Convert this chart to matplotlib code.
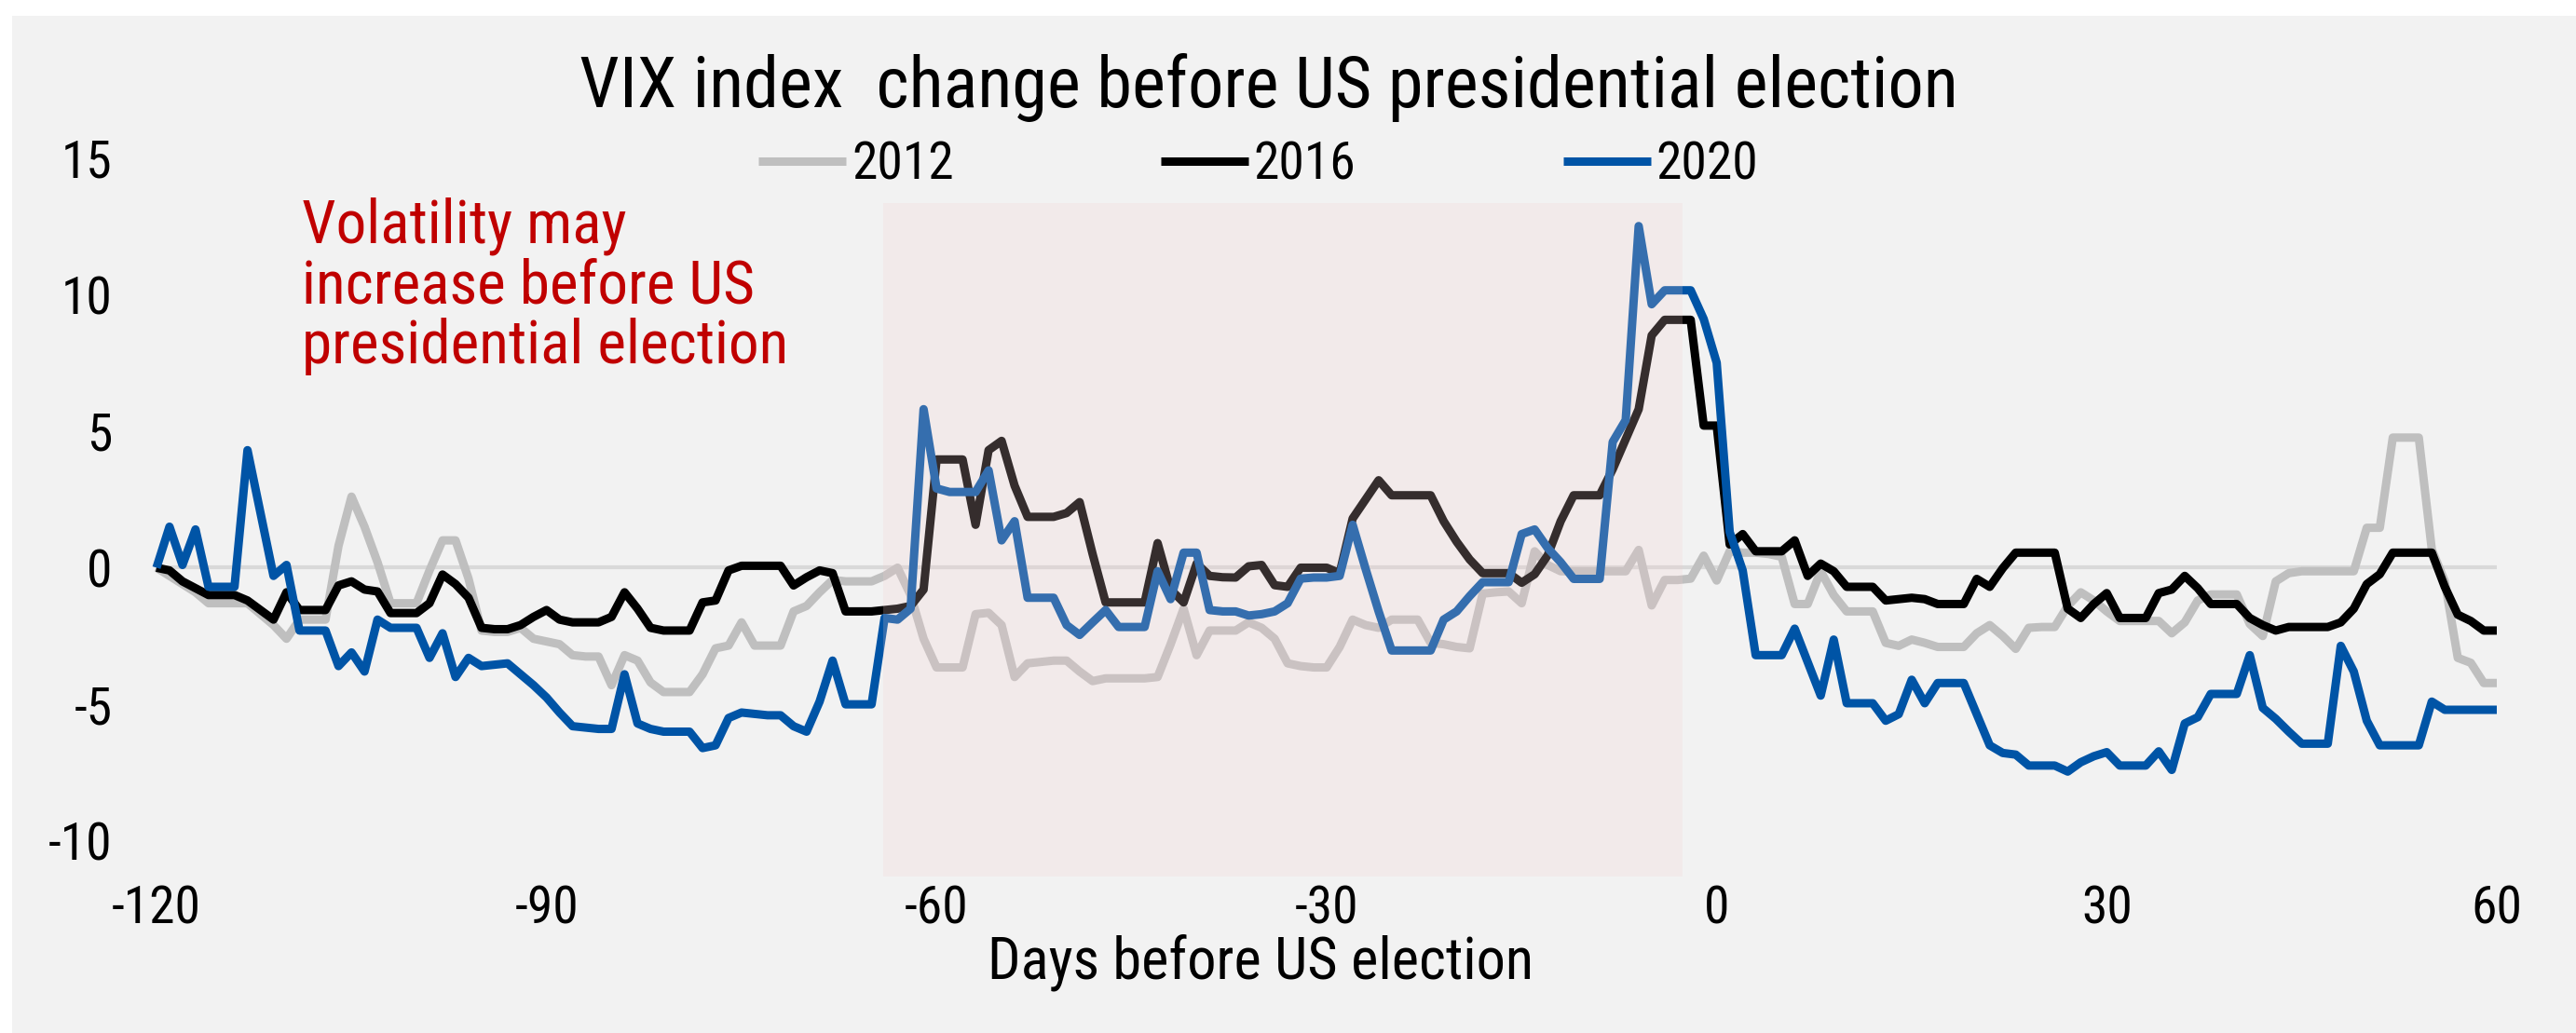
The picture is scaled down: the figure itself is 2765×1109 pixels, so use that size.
import numpy as np
import matplotlib
matplotlib.use("Agg")
from matplotlib import pyplot as plt
from matplotlib import font_manager
from matplotlib.patches import Rectangle

# days relative to election day
days = list(range(-120, 61))

vix_2012 = [
    0, -0.3, -0.6, -0.9, -1.3, -1.3, -1.3, -1.3, -1.7, -2.1,
    -2.6, -1.9, -1.9, -1.9, 0.8, 2.6, 1.5, 0.2, -1.3, -1.3,
    -1.3, -0.1, 1.0, 1.0, -0.4, -2.3, -2.35, -2.35, -2.2, -2.6,
    -2.7, -2.8, -3.2, -3.25, -3.25, -4.3, -3.2, -3.4, -4.2, -4.55,
    -4.55, -4.55, -3.9, -2.95, -2.85, -2.0, -2.85, -2.85, -2.85, -1.6,
    -1.4, -0.9, -0.45, -0.5, -0.5, -0.5, -0.3, 0.0, -1.0, -2.6,
    -3.65, -3.65, -3.65, -1.7, -1.65, -2.1, -4.0, -3.5, -3.45, -3.4,
    -3.4, -3.8, -4.15, -4.05, -4.05, -4.05, -4.05, -4.0, -2.8, -1.5,
    -3.2, -2.3, -2.3, -2.3, -2.0, -2.2, -2.6, -3.5, -3.6, -3.65,
    -3.65, -2.9, -1.9, -2.1, -2.2, -1.9, -1.9, -1.9, -2.75, -2.8,
    -2.9, -2.95, -0.95, -0.9, -0.87, -1.3, 0.6, 0.1, -0.13, -0.13,
    -0.13, -0.13, -0.13, -0.13, 0.65, -1.38, -0.45, -0.45, -0.4, 0.44,
    -0.47, 0.6, 0.55, 0.55, 0.5, 0.4, -1.33, -1.33, -0.13, -1.0,
    -1.6, -1.6, -1.6, -2.75, -2.86, -2.63, -2.75, -2.9, -2.9, -2.9,
    -2.4, -2.1, -2.5, -2.97, -2.2, -2.17, -2.17, -1.4, -0.9, -1.2,
    -1.6, -1.95, -1.95, -1.95, -1.95, -2.4, -2.0, -1.2, -0.98, -0.98,
    -0.98, -2.06, -2.5, -0.5, -0.2, -0.13, -0.13, -0.13, -0.13, -0.13,
    1.46, 1.46, 4.76, 4.76, 4.76, 0.67, -0.5, -3.3, -3.48, -4.22,
    -4.22,
]

vix_2016 = [
    0, -0.1, -0.5, -0.75, -1.0, -1.0, -1.0, -1.2, -1.55, -1.9,
    -0.9, -1.55, -1.55, -1.55, -0.65, -0.5, -0.8, -0.87, -1.66, -1.66,
    -1.66, -1.3, -0.25, -0.6, -1.1, -2.2, -2.25, -2.25, -2.1, -1.8,
    -1.55, -1.9, -2.0, -2.0, -2.0, -1.8, -0.9, -1.5, -2.2, -2.3,
    -2.3, -2.3, -1.27, -1.2, -0.1, 0.07, 0.07, 0.07, 0.07, -0.65,
    -0.35, -0.1, -0.2, -1.6, -1.6, -1.6, -1.55, -1.5, -1.4, -0.8,
    3.96, 3.96, 3.96, 1.57, 4.3, 4.64, 3.0, 1.86, 1.86, 1.86,
    2.0, 2.4, 0.5, -1.27, -1.27, -1.27, -1.27, 0.9, -0.8, -1.27,
    0.15, -0.3, -0.35, -0.36, 0.05, 0.1, -0.64, -0.7, 0.0, 0.0,
    0.0, -0.2, 1.8, 2.5, 3.2, 2.65, 2.65, 2.65, 2.65, 1.7,
    0.95, 0.3, -0.2, -0.2, -0.2, -0.55, -0.24, 0.45, 1.7, 2.65,
    2.65, 2.65, 3.6, 4.7, 5.8, 8.5, 9.07, 9.07, 9.07, 5.2,
    5.2, 0.85, 1.23, 0.6, 0.6, 0.6, 1.0, -0.3, 0.15, -0.13,
    -0.7, -0.7, -0.7, -1.2, -1.15, -1.1, -1.15, -1.33, -1.33, -1.33,
    -0.41, -0.7, -0.02, 0.55, 0.55, 0.55, 0.55, -1.5, -1.84, -1.33,
    -0.93, -1.84, -1.84, -1.84, -0.93, -0.8, -0.3, -0.75, -1.33, -1.33,
    -1.33, -1.84, -2.1, -2.3, -2.17, -2.17, -2.17, -2.17, -2.0, -1.5,
    -0.6, -0.24, 0.55, 0.55, 0.55, 0.55, -0.7, -1.72, -1.95, -2.3,
    -2.3,
]

vix_2020 = [
    0, 1.5, 0.1, 1.4, -0.7, -0.7, -0.7, 4.3, 2.0, -0.3,
    0.1, -2.3, -2.3, -2.3, -3.6, -3.1, -3.8, -1.9, -2.2, -2.2,
    -2.2, -3.3, -2.4, -4.0, -3.3, -3.6, -3.55, -3.5, -3.9, -4.3,
    -4.75, -5.3, -5.8, -5.85, -5.9, -5.9, -3.9, -5.7, -5.9, -6.0,
    -6.0, -6.0, -6.6, -6.5, -5.5, -5.3, -5.35, -5.4, -5.4, -5.8,
    -6.0, -4.9, -3.4, -5.0, -5.0, -5.0, -1.84, -1.9, -1.5, 5.8,
    2.9, 2.77, 2.77, 2.77, 3.56, 1.0, 1.7, -1.1, -1.1, -1.1,
    -2.1, -2.46, -2.0, -1.55, -2.17, -2.17, -2.17, -0.13, -1.15, 0.55,
    0.55, -1.55, -1.6, -1.6, -1.75, -1.7, -1.6, -1.3, -0.4, -0.36,
    -0.36, -0.3, 1.57, -0.05, -1.6, -3.03, -3.03, -3.03, -3.03, -1.9,
    -1.6, -1.04, -0.53, -0.53, -0.53, 1.23, 1.4, 0.72, 0.2, -0.41,
    -0.41, -0.41, 4.6, 5.4, 12.5, 9.64, 10.15, 10.15, 10.15, 9.1,
    7.5, 1.3, -0.1, -3.2, -3.2, -3.2, -2.23, -3.45, -4.68, -2.63,
    -4.96, -4.96, -4.96, -5.6, -5.36, -4.1, -4.96, -4.22, -4.22, -4.22,
    -5.36, -6.5, -6.78, -6.84, -7.24, -7.24, -7.24, -7.46, -7.12, -6.9,
    -6.75, -7.24, -7.24, -7.24, -6.72, -7.4, -5.7, -5.47, -4.62, -4.62,
    -4.62, -3.2, -5.13, -5.53, -6.0, -6.44, -6.44, -6.44, -2.86, -3.8,
    -5.6, -6.5, -6.5, -6.5, -6.5, -4.9, -5.2, -5.2, -5.2, -5.2,
    -5.2,
]

series = [("2012", vix_2012, "#bfbfbf"),
          ("2016", vix_2016, "#000000"),
          ("2020", vix_2020, "#0054a6")]

x_ticks = [-120, -90, -60, -30, 0, 30, 60]
y_ticks = [-10, -5, 0, 5, 10, 15]

# window highlighted before the election
shade_start, shade_end = -64.1, -2.6
shade_low, shade_high = -11.3, 13.35

# pick a narrow sans if one is there
installed = {f.name for f in font_manager.fontManager.ttflist}
font = "DejaVu Sans"
for cand in ["Liberation Sans Narrow", "Roboto Condensed", "Open Sans Condensed", "Roboto"]:
    if cand in installed:
        font = cand
        break
plt.rcParams["font.family"] = [font, "DejaVu Sans"]
plt.rcParams["axes.unicode_minus"] = False

fig = plt.figure(figsize=(27.65, 11.09), dpi=100, facecolor="white")
fig.patches.append(Rectangle((13 / 2765, 0), 1, 1 - 17 / 1109, transform=fig.transFigure,
                             facecolor="#f2f2f2", edgecolor="none", zorder=-10))

ax = fig.add_axes([0.0557, 0.1515, 0.9186, 0.7090])
ax.set_facecolor("none")
ax.set_xlim(-121, 61)
ax.set_ylim(-11.3, 15.5)

ax.hlines(0, days[0], days[-1], color="#d9d9d9", lw=3, zorder=1)

lines = []
for label, values, color in series:
    assert len(values) == len(days)
    ln, = ax.plot(days, values, color=color, lw=6.5, label=label, zorder=2,
                  solid_joinstyle="round", solid_capstyle="butt")
    lines.append(ln)

ax.add_patch(Rectangle((shade_start, shade_low), shade_end - shade_start, shade_high - shade_low,
                       facecolor=(242 / 255, 206 / 255, 206 / 255), alpha=0.22,
                       edgecolor="none", zorder=3))

for side in ["top", "right", "bottom", "left"]:
    ax.spines[side].set_visible(False)
ax.set_xticks(x_ticks)
ax.set_yticks(y_ticks)
ax.tick_params(axis="both", length=0, labelsize=40, colors="#000000")
ax.tick_params(axis="y", pad=24)
ax.tick_params(axis="x", pad=6)

fig.text(0.4926, 1 - 115 / 1109, "VIX index  change before US presidential election",
         ha="center", va="baseline", fontsize=55, color="#000000")
fig.text(1353 / 2765, 1 - 1050 / 1109, "Days before US election",
         ha="center", va="baseline", fontsize=45, color="#000000")
fig.text(324 / 2765, 1 - 212 / 1109,
         "Volatility may\nincrease before US\npresidential election",
         ha="left", va="top", fontsize=47, color="#c00000", linespacing=1.05)

fig.legend(handles=lines, labels=[s[0] for s in series], loc="center left",
           bbox_to_anchor=(814 / 2765, 1 - 177 / 1109), ncol=3, frameon=False,
           fontsize=40, handlelength=1.7, handletextpad=0.1, columnspacing=4.0,
           borderpad=0, borderaxespad=0)

fig.savefig("out.png", dpi=100, facecolor=fig.get_facecolor())
